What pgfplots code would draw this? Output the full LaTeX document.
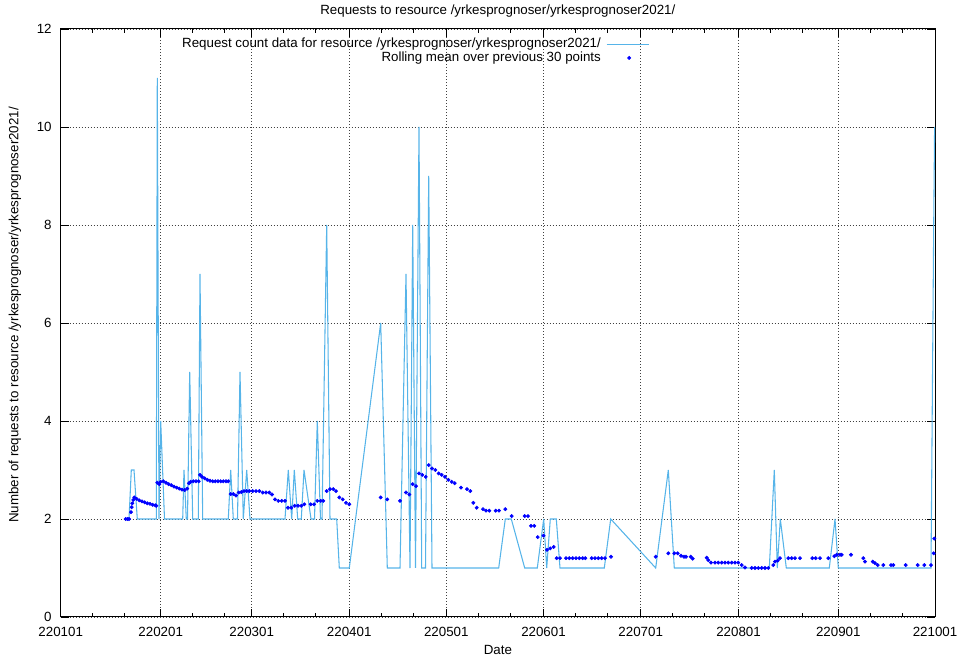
\documentclass[border=0pt]{standalone}
\usepackage{pgfplots}
\pgfplotsset{compat=1.18}
\usepackage{fontspec}
\setmainfont{Liberation Sans}
\definecolor{linecol}{RGB}{86,180,233}
\definecolor{dotcol}{RGB}{0,0,255}
\pgfplotsset{
  lineleg/.style={legend image code/.code={\draw[##1] (0pt,0pt) -- (32pt,0pt);}},
  dotleg/.style={legend image code/.code={\draw[mark repeat=2,mark phase=2,##1] plot coordinates {(0pt,0pt) (17pt,0pt) (34pt,0pt)};}},
}
\begin{document}
\begin{tikzpicture}[font=\fontsize{10}{12}\selectfont]
\useasboundingbox (-45.525pt,-29.25pt) rectangle (672.225pt,462.75pt);
\begin{axis}[
  scale only axis,
  width=655.725pt, height=441pt,
  xmin=60.7, xmax=935, ymin=0, ymax=12,
  xtick={60.7,160.7,251.7,349.2,446.3,543.5,640.7,738.5,838.3,935},
  xticklabels={220101,220201,220301,220401,220501,220601,220701,220801,220901,221001},
  minor xtick={92.7,124.7,192.7,224.7,283.7,315.7,381.2,413.2,478.3,510.3,575.5,607.5,672.7,704.7,770.5,802.5,870.3,902.3},
  ytick={0,2,4,6,8,10,12},
  /pgf/number format/assume math mode=true,
  tick align=inside,
  major tick length=6pt, minor tick length=3pt,
  tick style={black, line width=0.6pt},
  xmajorgrids, ymajorgrids,
  major grid style={black!75, line width=0.6pt, dash pattern=on 0.75pt off 1.5pt},
  axis line style={black, line width=0.75pt},
  xticklabel style={yshift=-3.8pt},
  yticklabel style={xshift=-3.3pt},
  title={Requests to resource /yrkesprognoser/yrkesprognoser2021/},
  every axis title/.style={at={(axis description cs:0.5,1.0306)}, anchor=center},
  xlabel={Date},
  every axis x label/.style={at={(axis description cs:0.5,-0.0561)}, anchor=center},
  ylabel={Number of requests to resource /yrkesprognoser/yrkesprognoser2021/},
  every axis y label/.style={at={(axis description cs:-0.0523,0.5136)}, rotate=90, anchor=center},
  legend plot pos=right,
  legend cell align=right,
  legend style={at={(axis description cs:0.674,0.9865)}, anchor=north east,
    draw=none, fill=none, inner xsep=0pt, inner ysep=0pt,
    nodes={inner sep=0.8pt, text depth=0.15em}, column sep=3pt},
]
\addplot[lineleg, color=linecol, line width=0.8pt, no markers]
coordinates {
(125.7,2) (129.0,2) (131.3,3) (134.0,3) (137.3,2) (156.3,2) (157.3,11) (159.0,2)
(160.7,4) (164.5,2) (182.7,2) (184.0,3) (186.3,2) (187.5,2) (189.7,5) (192.7,2)
(198.3,2) (200.0,7) (202.7,2) (228.3,2) (230.7,3) (233.3,2) (237.5,2) (240.0,5)
(243.3,2) (246.7,3) (250.0,2) (285.0,2) (288.3,3) (291.7,2) (294.3,3) (297.7,2)
(301.3,2) (304.0,3) (311.0,2) (314.5,2) (317.3,4) (320.5,2) (322.0,2) (326.7,8)
(330.0,2) (336.7,2) (339.3,1) (349.3,1) (380.7,6) (387.3,1) (400.0,1) (406.0,7)
(410.0,1) (412.7,8) (415.5,1) (419.0,10) (421.7,1) (425.5,1) (428.7,9) (432.0,1)
(498.7,1) (505.3,2) (511.3,2) (524.7,1) (537.3,1) (543.7,2) (546.7,1) (550.3,2)
(556.3,2) (560.0,1) (604.3,1) (610.7,2) (655.7,1) (668.3,3) (674.3,1) (769.3,1)
(774.3,3) (777.3,1) (780.3,2) (786.3,1) (829.3,1) (835.0,2) (838.3,1) (931.0,1)
(933.7,8) (934.6,10)
};
\addlegendentry{Request count data for resource /yrkesprognoser/yrkesprognoser2021/}
\addplot[dotleg, only marks, mark=*, mark size=1.25pt, color=dotcol, mark options={fill=dotcol, draw=dotcol}]
coordinates {
(125.7,2.00) (127.3,2.00) (129.0,2.00) (131.0,2.14) (131.7,2.24) (132.3,2.32) (133.3,2.39) (134.3,2.44)
(136.7,2.41) (139.3,2.38) (142.0,2.36) (144.7,2.34) (147.3,2.32) (150.0,2.31) (152.7,2.29) (155.3,2.28)
(156.3,2.27) (157.3,2.74) (159.3,2.71) (160.7,2.76) (163.3,2.77) (166.0,2.74) (168.7,2.71) (171.3,2.69)
(174.0,2.66) (176.7,2.64) (179.3,2.62) (182.0,2.60) (184.7,2.59) (187.3,2.62) (189.0,2.73) (190.7,2.76)
(193.3,2.77) (196.0,2.77) (198.7,2.77) (200.0,2.90) (202.0,2.86) (204.7,2.83) (207.3,2.80) (210.0,2.78)
(212.7,2.77) (215.3,2.77) (218.0,2.77) (220.7,2.77) (223.3,2.77) (226.0,2.77) (228.3,2.77) (230.7,2.51)
(233.3,2.51) (236.0,2.48) (238.7,2.54) (241.3,2.55) (244.0,2.57) (246.7,2.57) (249.3,2.57) (252.7,2.57)
(256.0,2.57) (259.3,2.57) (262.7,2.54) (266.0,2.54) (269.3,2.54) (272.0,2.50) (275.0,2.40) (278.3,2.37)
(281.7,2.37) (285.0,2.37) (288.0,2.23) (291.3,2.23) (294.7,2.27) (298.0,2.27) (301.3,2.27) (304.3,2.30)
(310.7,2.30) (314.0,2.30) (317.3,2.37) (320.7,2.37) (323.3,2.37) (326.7,2.57) (330.0,2.61) (333.3,2.61)
(336.0,2.57) (339.3,2.44) (342.7,2.40) (346.0,2.33) (349.3,2.30) (380.7,2.44) (387.3,2.40) (400.0,2.37)
(406.0,2.54) (409.3,2.50) (412.7,2.71) (416.0,2.67) (419.0,2.93) (422.3,2.90) (425.7,2.86) (428.7,3.10)
(432.0,3.03) (435.3,3.00) (438.7,2.93) (441.7,2.90) (445.0,2.86) (448.3,2.80) (451.7,2.76) (454.7,2.73)
(461.0,2.64) (467.0,2.61) (470.3,2.57) (473.3,2.33) (476.7,2.23) (483.0,2.20) (486.0,2.17) (489.3,2.17)
(495.7,2.17) (499.0,2.17) (505.3,2.20) (511.7,2.06) (524.7,2.06) (528.0,2.06) (531.0,1.86) (534.3,1.86)
(537.7,1.63) (543.5,1.66) (547.0,1.37) (550.3,1.40) (553.7,1.43) (556.7,1.20) (560.0,1.20) (566.0,1.20)
(569.3,1.20) (572.7,1.20) (576.0,1.20) (579.3,1.20) (582.7,1.20) (585.3,1.20) (591.7,1.20) (595.0,1.20)
(598.3,1.20) (601.7,1.20) (605.0,1.20) (611.0,1.23) (655.7,1.23) (668.3,1.30) (674.3,1.30) (677.7,1.30)
(681.0,1.25) (684.0,1.23) (686.0,1.23) (690.7,1.23) (692.7,1.19) (706.7,1.21) (708.3,1.16) (711.0,1.11)
(715.0,1.11) (718.3,1.11) (721.7,1.11) (725.0,1.11) (728.3,1.11) (731.7,1.11) (735.0,1.11) (738.3,1.11)
(741.7,1.06) (745.0,1.01) (751.7,1.00) (755.0,1.00) (758.3,1.00) (761.7,1.00) (765.0,1.00) (768.3,1.00)
(773.3,1.06) (775.0,1.13) (777.7,1.15) (780.0,1.20) (788.3,1.20) (791.7,1.20) (795.0,1.20) (800.0,1.20)
(812.3,1.20) (815.7,1.20) (820.0,1.20) (828.3,1.20) (834.3,1.24) (836.7,1.27) (840.0,1.27) (841.7,1.27)
(851.0,1.27) (863.3,1.20) (865.0,1.13) (872.7,1.13) (875.0,1.10) (877.7,1.06) (883.3,1.06) (891.0,1.06)
(893.3,1.06) (905.7,1.06) (917.7,1.06) (924.3,1.06) (931.0,1.06) (933.7,1.30) (934.3,1.60)
};
\addlegendentry{Rolling mean over previous 30 points}
\end{axis}
\end{tikzpicture}
\end{document}
